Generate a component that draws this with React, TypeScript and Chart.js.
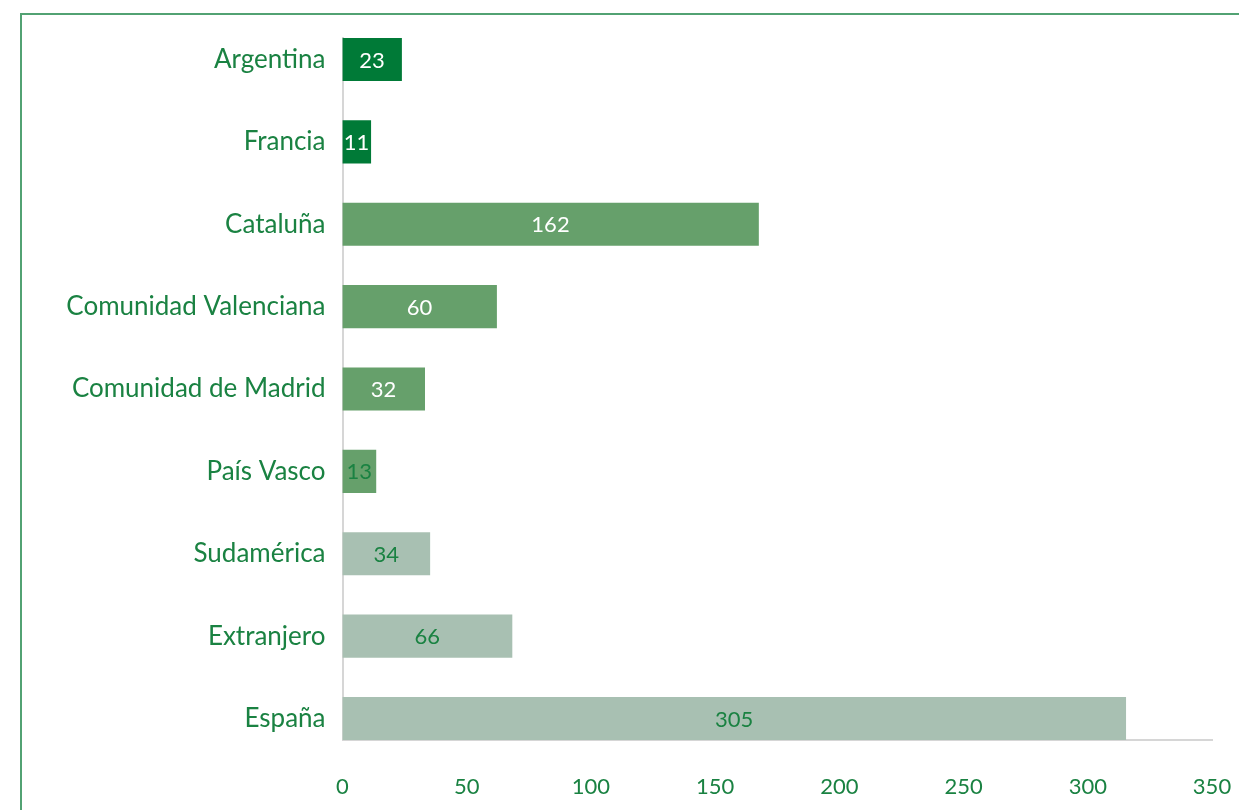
import { useEffect, useRef } from "react";
import { Chart, registerables } from "chart.js";

Chart.register(...registerables);

const categories = [
  "Argentina",
  "Francia",
  "Cataluña",
  "Comunidad Valenciana",
  "Comunidad de Madrid",
  "País Vasco",
  "Sudamérica",
  "Extranjero",
  "España",
];
const values = [23, 11, 162, 60, 32, 13, 34, 66, 305];
const xTicks = [0, 50, 100, 150, 200, 250, 300, 350];

const DARK = "#007a37";
const MID = "#66a06b";
const LIGHT = "#a8c0b2";
const barColors = [DARK, DARK, MID, MID, MID, MID, LIGHT, LIGHT, LIGHT];
const TEXT_GREEN = "#1a8242";
const labelColors = ["#ffffff", "#ffffff", "#ffffff", "#ffffff", "#ffffff", TEXT_GREEN, TEXT_GREEN, TEXT_GREEN, TEXT_GREEN];

const FONT = "Lato";

export default function App() {
  const ref = useRef<HTMLCanvasElement>(null);

  useEffect(() => {
    if (!ref.current) return;
    const valueLabels = {
      id: "valueLabels",
      afterDatasetsDraw(chart: any) {
        const ctx = chart.ctx;
        const meta = chart.getDatasetMeta(0);
        ctx.save();
        ctx.font = `22px ${FONT}`;
        ctx.textAlign = "center";
        ctx.textBaseline = "middle";
        meta.data.forEach((bar: any, i: number) => {
          const p = bar.getProps(["x", "y", "base"], true);
          ctx.fillStyle = labelColors[i];
          ctx.fillText(String(values[i]), (p.x + p.base) / 2, p.y + 1);
        });
        ctx.restore();
      },
    };

    const chart = new Chart(ref.current, {
      type: "bar",
      data: {
        datasets: [
          {
            data: values.map((v, i) => ({ x: v, y: i })),
            backgroundColor: barColors,
            barThickness: 42.5,
            borderWidth: 0,
          } as any,
        ],
      },
      options: {
        indexAxis: "y",
        animation: false,
        responsive: false,
        layout: { padding: { left: 42, top: 38, right: 0, bottom: 0 } },
        plugins: {
          legend: { display: false },
          tooltip: { enabled: false },
        },
        scales: {
          y: {
            type: "linear",
            reverse: true,
            offset: false,
            min: -0.26,
            max: 8.26,
            afterBuildTicks: (s: any) => {
              s.ticks = categories.map((_, i) => ({ value: i }));
            },
            afterFit: (s: any) => {
              s.width = 300.5;
              s.paddingTop = 0;
              s.paddingBottom = 0;
            },
            ticks: {
              callback: (v: any) => categories[v] ?? "",
              color: TEXT_GREEN,
              font: { family: FONT, size: 26 },
              padding: 17,
            },
            grid: { display: false, drawTicks: false, offset: false },
            border: { color: "#d6d6d6", width: 2 },
          },
          x: {
            type: "linear",
            offset: false,
            min: 0,
            max: 338.6,
            display: false,
          },
          x2: {
            type: "linear",
            position: "bottom",
            offset: false,
            min: 0,
            max: 350,
            afterBuildTicks: (s: any) => {
              s.ticks = xTicks.map((v) => ({ value: v }));
            },
            afterFit: (s: any) => {
              s.height = 70;
              s.paddingRight = 27;
              s.paddingLeft = 0;
            },
            ticks: {
              color: TEXT_GREEN,
              font: { family: FONT, size: 22 },
              padding: 34,
              maxRotation: 0,
            },
            grid: { display: false, drawTicks: false },
            border: { color: "#d6d6d6", width: 2 },
          },
        },
      } as any,
      plugins: [valueLabels],
    });
    return () => chart.destroy();
  }, []);

  return (
    <div
      style={{
        position: "fixed",
        left: 0,
        top: 0,
        width: 1239,
        height: 810,
        overflow: "hidden",
        background: "#ffffff",
      }}
    >
      <div
        style={{
          position: "absolute",
          left: 20,
          top: 13,
          width: 1400,
          height: 1000,
          borderLeft: "2px solid #52a273",
          borderTop: "2px solid #52a273",
        }}
      />
      <canvas
        ref={ref}
        width={1239}
        height={810}
        style={{ position: "absolute", left: 0, top: 0, width: 1239, height: 810 }}
      />
    </div>
  );
}
